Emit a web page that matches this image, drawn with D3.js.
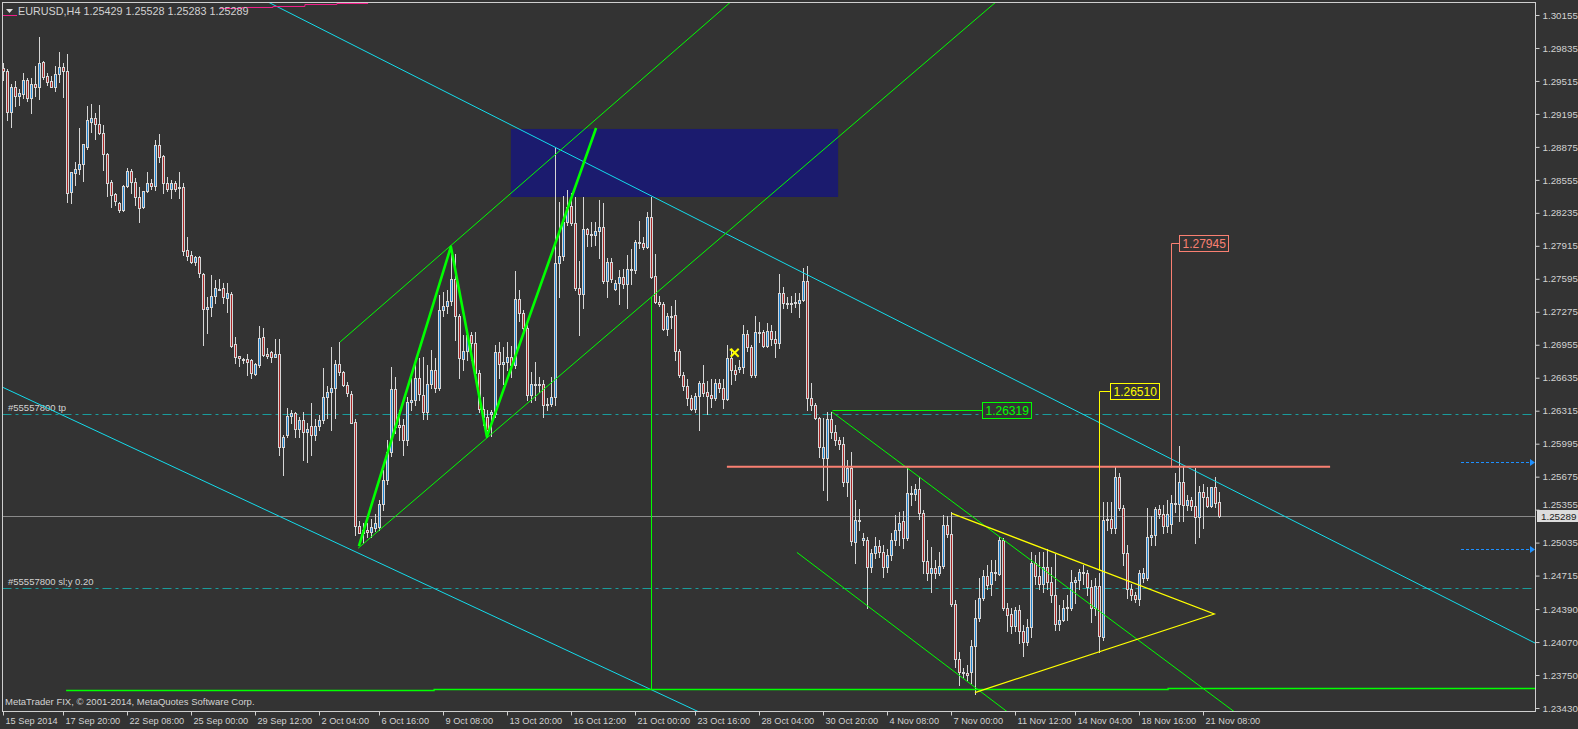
<!DOCTYPE html>
<html>
<head>
<meta charset="utf-8">
<script src="https://cdn.jsdelivr.net/npm/d3@7"></script>
<style>
  html, body { margin: 0; padding: 0; background: #333333; overflow: hidden; }
  svg { display: block; }
  text { font-family: "Liberation Sans", Arial, sans-serif; font-size: 9.5px; fill: #d2d2d2; }
</style>
</head>
<body>
<svg id="chart" width="1578" height="729"></svg>
<script>
// EURUSD H4 candles, prices in 1/10000
const OPEN = [
  12964,12961,12921,12946,12937,12939,12952,12935,12949,12946,
  12970,12956,12951,12946,12958,12965,12961,12844,12862,12866,
  12871,12887,12912,12916,12910,12901,12881,12853,12842,12833,
  12826,12850,12864,12853,12839,12829,12845,12852,12850,12889,
  12879,12852,12847,12852,12848,12849,12787,12783,12776,12781,
  12764,12730,12732,12743,12750,12751,12741,12745,12696,12685,
  12682,12682,12681,12667,12676,12703,12687,12688,12684,12687,
  12596,12608,12626,12629,12614,12622,12611,12617,12608,12617,
  12622,12645,12650,12654,12677,12669,12656,12648,12621,12520,
  12513,12516,12514,12518,12519,12541,12564,12591,12653,12618,
  12618,12603,12640,12642,12663,12647,12630,12657,12671,12654,
  12729,12733,12738,12759,12723,12682,12689,12705,12697,12668,
  12633,12625,12628,12628,12688,12677,12679,12684,12676,12740,
  12726,12712,12647,12657,12656,12657,12637,12638,12645,12775,
  12782,12815,12830,12814,12751,12745,12808,12803,12802,12806,
  12810,12757,12776,12750,12755,12761,12754,12769,12768,12795,
  12794,12790,12819,12762,12737,12735,12711,12723,12724,12689,
  12666,12655,12644,12633,12646,12658,12650,12647,12644,12658,
  12654,12643,12683,12671,12672,12674,12706,12693,12666,12708,
  12708,12694,12709,12701,12697,12746,12736,12735,12736,12736,
  12739,12757,12644,12637,12624,12586,12586,12623,12611,12603,
  12599,12562,12576,12504,12525,12506,12506,12480,12493,12500,
  12494,12480,12491,12506,12516,12524,12508,12552,12551,12556,
  12532,12486,12474,12479,12474,12481,12521,12512,12444,12391,
  12378,12377,12378,12403,12430,12450,12471,12463,12475,12473,
  12506,12440,12434,12423,12438,12418,12407,12422,12484,12471,
  12463,12480,12465,12453,12425,12428,12440,12440,12465,12467,
  12475,12474,12460,12440,12461,12412,12525,12526,12518,12567,
  12537,12493,12458,12453,12449,12469,12469,12509,12511,12536,
  12531,12520,12522,12542,12541,12562,12540,12545,12539,12528,
  12553,12548,12539,12557,12543
];
const HIGH = [
  12969,12963,12949,12951,12944,12959,12954,12954,12966,12994,
  12971,12959,12956,12966,12980,12969,12978,12863,12873,12906,
  12890,12927,12929,12920,12928,12909,12882,12855,12843,12834,
  12851,12867,12866,12857,12849,12845,12863,12856,12894,12900,
  12880,12858,12855,12854,12863,12852,12800,12786,12782,12782,
  12765,12742,12763,12758,12759,12755,12755,12747,12703,12685,
  12683,12687,12682,12678,12714,12712,12692,12689,12701,12701,
  12608,12634,12632,12630,12625,12630,12620,12639,12623,12627,
  12673,12655,12693,12681,12698,12670,12659,12651,12623,12524,
  12523,12523,12526,12531,12545,12574,12603,12674,12664,12632,
  12623,12645,12663,12681,12683,12684,12676,12690,12683,12744,
  12747,12749,12790,12784,12725,12705,12710,12708,12708,12671,
  12645,12632,12632,12695,12698,12693,12698,12694,12767,12749,
  12729,12718,12669,12679,12664,12661,12644,12664,12886,12834,
  12840,12846,12843,12839,12777,12839,12809,12815,12815,12836,
  12833,12780,12780,12758,12768,12769,12783,12788,12797,12816,
  12800,12824,12839,12784,12743,12737,12726,12733,12739,12691,
  12669,12662,12647,12649,12660,12676,12660,12662,12662,12662,
  12662,12695,12691,12676,12681,12715,12710,12695,12723,12718,
  12710,12717,12715,12709,12764,12752,12742,12743,12746,12746,
  12770,12772,12658,12639,12625,12624,12630,12630,12618,12606,
  12606,12584,12591,12545,12536,12513,12509,12497,12509,12506,
  12501,12497,12513,12530,12533,12534,12576,12558,12560,12567,
  12535,12506,12499,12487,12494,12530,12529,12533,12448,12397,
  12382,12385,12409,12448,12469,12477,12482,12487,12487,12509,
  12508,12445,12440,12441,12443,12424,12429,12494,12491,12494,
  12494,12497,12480,12492,12443,12448,12453,12477,12470,12478,
  12482,12477,12467,12469,12474,12543,12543,12543,12577,12571,
  12540,12501,12463,12456,12477,12479,12537,12529,12538,12540,
  12540,12545,12550,12571,12597,12578,12550,12548,12576,12558,
  12560,12557,12557,12567,12553
];
const LOW = [
  12952,12914,12907,12927,12928,12935,12932,12920,12937,12934,
  12953,12948,12946,12942,12950,12936,12834,12833,12851,12861,
  12854,12885,12902,12895,12900,12865,12840,12829,12831,12824,
  12825,12849,12843,12831,12815,12828,12844,12847,12846,12873,
  12843,12845,12838,12845,12838,12783,12778,12775,12773,12761,
  12695,12707,12723,12736,12749,12736,12727,12693,12678,12675,
  12678,12666,12663,12666,12674,12685,12683,12679,12684,12589,
  12569,12606,12620,12606,12606,12584,12582,12589,12603,12613,
  12620,12624,12613,12624,12666,12655,12646,12620,12511,12513,
  12503,12509,12509,12515,12516,12535,12560,12588,12610,12603,
  12589,12598,12632,12637,12642,12623,12623,12654,12650,12652,
  12723,12726,12734,12700,12663,12671,12681,12681,12663,12630,
  12618,12606,12607,12625,12663,12657,12671,12664,12673,12719,
  12710,12642,12640,12642,12650,12625,12632,12636,12637,12742,
  12778,12812,12812,12749,12705,12731,12791,12791,12792,12780,
  12755,12742,12756,12749,12735,12751,12731,12754,12765,12789,
  12788,12789,12760,12736,12733,12710,12705,12712,12681,12664,
  12652,12637,12632,12630,12613,12646,12628,12635,12642,12650,
  12634,12642,12657,12661,12669,12668,12689,12664,12664,12698,
  12693,12693,12695,12684,12692,12731,12731,12727,12732,12722,
  12738,12632,12632,12623,12587,12555,12545,12605,12598,12594,
  12558,12549,12501,12484,12516,12501,12440,12475,12489,12490,
  12470,12475,12487,12501,12501,12498,12506,12540,12545,12526,
  12474,12467,12456,12469,12472,12479,12509,12442,12383,12365,
  12373,12370,12367,12357,12427,12448,12458,12453,12467,12472,
  12438,12418,12416,12418,12406,12393,12404,12412,12463,12458,
  12456,12458,12446,12419,12419,12427,12428,12438,12445,12458,
  12463,12453,12426,12433,12397,12409,12516,12513,12513,12535,
  12482,12450,12448,12446,12443,12465,12467,12501,12501,12527,
  12513,12514,12513,12533,12524,12524,12535,12535,12503,12509,
  12518,12538,12538,12538,12528
];
const CLOSE = [
  12961,12921,12946,12937,12940,12952,12935,12949,12946,12969,
  12955,12950,12946,12958,12965,12961,12843,12863,12866,12871,
  12890,12914,12916,12910,12901,12881,12852,12841,12835,12826,
  12850,12864,12853,12839,12828,12845,12852,12850,12889,12878,
  12852,12847,12852,12847,12849,12786,12782,12776,12781,12765,
  12730,12732,12743,12751,12749,12742,12746,12694,12684,12683,
  12681,12679,12668,12677,12702,12686,12685,12684,12687,12596,
  12606,12626,12629,12614,12622,12611,12614,12608,12617,12622,
  12645,12650,12654,12677,12669,12656,12649,12620,12520,12513,
  12516,12514,12519,12523,12541,12564,12591,12653,12616,12616,
  12603,12640,12642,12663,12648,12630,12657,12671,12654,12729,
  12733,12738,12759,12723,12683,12689,12705,12697,12668,12633,
  12625,12613,12630,12688,12677,12679,12684,12676,12740,12726,
  12712,12647,12657,12656,12657,12637,12638,12645,12775,12782,
  12815,12829,12814,12751,12745,12808,12803,12802,12806,12810,
  12757,12776,12759,12755,12761,12754,12769,12768,12795,12794,
  12790,12819,12761,12737,12735,12711,12723,12722,12689,12666,
  12655,12644,12633,12646,12658,12649,12646,12644,12658,12654,
  12643,12683,12671,12667,12674,12706,12693,12666,12708,12707,
  12694,12709,12701,12697,12746,12736,12735,12736,12737,12739,
  12757,12644,12637,12624,12596,12596,12623,12611,12603,12599,
  12562,12576,12505,12525,12524,12508,12480,12493,12500,12494,
  12480,12491,12506,12516,12523,12508,12552,12551,12556,12532,
  12486,12474,12479,12474,12481,12521,12512,12444,12391,12378,
  12377,12375,12403,12430,12450,12471,12462,12475,12474,12506,
  12440,12433,12423,12438,12418,12407,12422,12484,12471,12463,
  12480,12465,12453,12425,12428,12440,12441,12465,12467,12475,
  12474,12460,12440,12461,12413,12525,12526,12518,12567,12537,
  12493,12458,12453,12449,12474,12474,12509,12511,12536,12531,
  12520,12531,12542,12541,12562,12540,12545,12539,12528,12553,
  12548,12539,12557,12542,12529
];

const TIME_LABELS = ['15 Sep 2014', '17 Sep 20:00', '22 Sep 08:00', '25 Sep 00:00', '29 Sep 12:00',
  '2 Oct 04:00', '6 Oct 16:00', '9 Oct 08:00', '13 Oct 20:00', '16 Oct 12:00', '21 Oct 00:00',
  '23 Oct 16:00', '28 Oct 04:00', '30 Oct 20:00', '4 Nov 08:00', '7 Nov 00:00', '11 Nov 12:00',
  '14 Nov 04:00', '18 Nov 16:00', '21 Nov 08:00'];
const TIME_BARS = [0, 15, 31, 47, 63, 79, 94, 110, 126, 142, 158, 173, 189, 205, 221, 237, 253, 268, 284, 300];
const PRICE_TICKS = ['1.30155', '1.29835', '1.29515', '1.29195', '1.28875', '1.28555', '1.28235',
  '1.27915', '1.27595', '1.27275', '1.26955', '1.26635', '1.26315', '1.25995', '1.25675', '1.25355',
  '1.25035', '1.24715', '1.24390', '1.24070', '1.23750', '1.23430'];

const HEADER = ['EURUSD,H4', 1.25429, 1.25528, 1.25283, 1.25289];
const LAST_PRICE = 1.25289;

// drawn objects: [bar, price] anchors
const CYAN_UPPER = [[66.7, 1.30271], [382.9, 1.24061]];
const CYAN_LOWER = [[-0.3, 1.26545], [83.35, 1.25031]];
const CHANNEL_UPPER = [[84.2, 1.26982], [141.7, 1.28925]];
const CHANNEL_LOWER = [[88.7, 1.24980], [141.7, 1.26742]];
const ZIGZAG = [[88.9, 1.25002], [111.9, 1.27907], [120.9, 1.26063], [148.2, 1.29058]];
const ZONE_BARS = [126.9, 208.7];
const ZONE_PRICES = [1.29049, 1.28389];
const WEDGE_UPPER = [[207.1, 1.26305], [297.1, 1.23702]];
const WEDGE_LOWER = [[198.4, 1.24940], [247.1, 1.23508]];
const TRIANGLE = [[237.1, 1.25319], [302.75, 1.24342], [242.9, 1.23579]];
const RESIST = { price: 1.25772, bars: [180.9, 331.7] };
const MARKS = [
  { text: '1.27945', price: 1.27945, bar: 292.0, from: 1.25772, box: 294.0 },
  { text: '1.26510', price: 1.26510, bar: 274.0, from: 1.24769, box: 276.7 },
  { text: '1.26319', price: 1.26319, bar: 207.1, from: 1.26319, box: 244.7 }
];
const ORDER_LEVELS = [{ name: '#55557800 tp', price: 1.26280 }, { name: '#55557800 sl;y 0.20', price: 1.24592 }];
const PENDING_LEVELS = [1.25814, 1.24970];
const BOTTOM_STEPS = [[15.7, 107.7, 1.23600], [107.7, 291.2, 1.23610], [291.2, 384, 1.23622]];
const TOP_STEPS = [[54.2, 59.7, 1.30223], [59.7, 67.4, 1.30236], [67.4, 75.4, 1.30245], [75.4, 83.4, 1.30259], [83.4, 91.2, 1.30269]];
const VLINE_BAR = 162.0;
const CLOSE_MARK = [182.85, 1.26878];

const svg = d3.select('#chart');
const PL = 2.5, PT = 2.5, PR = 1535.5, PB = 711.5;

const x = d3.scaleLinear().domain([0, 304]).range([3.3, 1219.3]);
const y = d3.scaleLinear().domain([1.23430, 1.30155]).range([708, 15]);
const col = i => Math.round(x(i));
const py = p => Math.round(y(p)) + 0.5;

const C = {
  frame: '#cfcfcf', text: '#d2d2d2', candle: '#d6d6d6', bull: '#1f84d2', bear: '#ad2727',
  cyan: '#14dcec', lime: '#00ff00', yellow: '#ffff00', salmon: '#fa8072', teal: '#1a9c9c',
  zone: '#1b1b6e', grey: '#8a8a8a', blue: '#1e90ff', pink: '#f0208a'
};

svg.append('rect').attr('width', 1578).attr('height', 729).attr('fill', '#333333');
svg.append('clipPath').attr('id', 'plot').append('rect')
  .attr('x', PL).attr('y', PT).attr('width', PR - PL).attr('height', PB - PT);

const back = svg.append('g').attr('clip-path', 'url(#plot)');
const mid = svg.append('g').attr('clip-path', 'url(#plot)');
const front = svg.append('g').attr('clip-path', 'url(#plot)');

// background zone
back.append('rect')
  .attr('x', x(ZONE_BARS[0])).attr('y', y(ZONE_PRICES[0]))
  .attr('width', x(ZONE_BARS[1]) - x(ZONE_BARS[0]))
  .attr('height', y(ZONE_PRICES[1]) - y(ZONE_PRICES[0]))
  .attr('fill', C.zone);

// order levels (dash-dot)
ORDER_LEVELS.forEach(o => {
  back.append('line').attr('x1', PL).attr('x2', PR).attr('y1', py(o.price)).attr('y2', py(o.price))
    .attr('stroke', C.teal).attr('stroke-dasharray', '9,4,3,4');
  back.append('text').attr('x', 8).attr('y', py(o.price) - 4).text(o.name);
});

// bid line
back.append('line').attr('x1', PL).attr('x2', PR).attr('y1', py(LAST_PRICE)).attr('y2', py(LAST_PRICE))
  .attr('stroke', C.grey);

// pending order arrows
PENDING_LEVELS.forEach(p => {
  back.append('line').attr('x1', 1461).attr('x2', 1530).attr('y1', py(p)).attr('y2', py(p))
    .attr('stroke', C.blue).attr('stroke-dasharray', '3,2');
  back.append('path').attr('d', `M1530,${py(p) - 3.5}L1535,${py(p)}L1530,${py(p) + 3.5}Z`).attr('fill', C.blue);
});

// candles
const candles = OPEN.map((o, i) => ({ i, o: o / 1e4, h: HIGH[i] / 1e4, l: LOW[i] / 1e4, c: CLOSE[i] / 1e4 }));
mid.selectAll('line.wick').data(candles).join('line')
  .attr('class', 'wick')
  .attr('x1', d => col(d.i) + 0.5).attr('x2', d => col(d.i) + 0.5)
  .attr('y1', d => Math.round(y(d.h))).attr('y2', d => Math.round(y(d.l)) + 1)
  .attr('stroke', C.candle);
mid.selectAll('rect.body').data(candles).join('rect')
  .attr('class', 'body')
  .attr('x', d => col(d.i) - 0.5).attr('width', 2)
  .attr('y', d => py(Math.max(d.o, d.c)))
  .attr('height', d => Math.max(1, py(Math.min(d.o, d.c)) - py(Math.max(d.o, d.c))))
  .attr('fill', d => d.c >= d.o ? C.bull : C.bear)
  .attr('stroke', C.candle);

// helpers for drawn lines
function at(line, bar) {
  const [[b0, p0], [b1, p1]] = line;
  return p0 + (p1 - p0) * (bar - b0) / (b1 - b0);
}
function seg(g, line, b0, b1, color, w) {
  g.append('line')
    .attr('x1', x(b0)).attr('y1', y(at(line, b0)))
    .attr('x2', x(b1)).attr('y2', y(at(line, b1)))
    .attr('stroke', color).attr('stroke-width', w || 1);
}

seg(front, CYAN_UPPER, 60, 400, C.cyan);
seg(front, CYAN_LOWER, -5, 200, C.cyan);
seg(front, CHANNEL_UPPER, CHANNEL_UPPER[0][0], 260, C.lime);
seg(front, CHANNEL_LOWER, CHANNEL_LOWER[0][0], 260, C.lime);
seg(front, WEDGE_UPPER, WEDGE_UPPER[0][0], 330, C.lime);
seg(front, WEDGE_LOWER, WEDGE_LOWER[0][0], 270, C.lime);

front.append('path')
  .attr('d', d3.line().x(d => x(d[0])).y(d => y(d[1]))(ZIGZAG))
  .attr('fill', 'none').attr('stroke', C.lime).attr('stroke-width', 2.6).attr('stroke-linejoin', 'round');

// vertical from channel to bottom level
front.append('line')
  .attr('x1', col(VLINE_BAR) + 0.5).attr('x2', col(VLINE_BAR) + 0.5)
  .attr('y1', y(at(CHANNEL_LOWER, VLINE_BAR))).attr('y2', y(BOTTOM_STEPS[1][2]))
  .attr('stroke', C.lime);

// bottom and top step lines
const stepPath = steps => steps.map((s, k) =>
  (k ? 'L' : 'M') + x(s[0]) + ',' + py(s[2]) + 'L' + x(s[1]) + ',' + py(s[2])).join('');
front.append('path').attr('d', stepPath(BOTTOM_STEPS)).attr('fill', 'none').attr('stroke', C.lime).attr('stroke-width', 1.3);
front.append('path').attr('d', stepPath(TOP_STEPS)).attr('fill', 'none').attr('stroke', C.pink);

// yellow triangle (two sides)
front.append('path')
  .attr('d', d3.line().x(d => x(d[0])).y(d => y(d[1]))(TRIANGLE))
  .attr('fill', 'none').attr('stroke', C.yellow).attr('stroke-width', 1.2);

// resistance
front.append('line')
  .attr('x1', x(RESIST.bars[0])).attr('x2', x(RESIST.bars[1]))
  .attr('y1', y(RESIST.price)).attr('y2', y(RESIST.price))
  .attr('stroke', C.salmon).attr('stroke-width', 2);

// price marks with callout boxes
const markColor = [C.salmon, C.yellow, C.lime];
MARKS.forEach((m, k) => {
  const c = markColor[k];
  const xb = col(m.bar) + 0.5, yb = py(m.price);
  if (m.from !== m.price) {
    front.append('line').attr('x1', xb).attr('x2', xb).attr('y1', py(m.from)).attr('y2', yb).attr('stroke', c);
  }
  front.append('line').attr('x1', xb).attr('x2', Math.round(x(m.box))).attr('y1', yb).attr('y2', yb).attr('stroke', c);
  const bx = Math.round(x(m.box)) + 0.5;
  front.append('rect').attr('x', bx).attr('y', yb - 8).attr('width', 49).attr('height', 16)
    .attr('fill', '#333333').attr('stroke', c);
  front.append('text').attr('x', bx + 3).attr('y', yb + 4.5)
    .style('font-size', '12px').style('fill', c).text(m.text);
});

// close marker
{
  const cx = x(CLOSE_MARK[0]), cy = y(CLOSE_MARK[1]);
  front.append('path')
    .attr('d', `M${cx - 4},${cy - 4}L${cx + 4},${cy + 4}M${cx + 4},${cy - 4}L${cx - 4},${cy + 4}M${cx - 5},${cy - 3}L${cx - 2},${cy - 3}`)
    .attr('stroke', C.yellow).attr('stroke-width', 2);
}

// frame
svg.append('rect').attr('x', PL).attr('y', PT).attr('width', PR - PL).attr('height', PB - PT)
  .attr('fill', 'none').attr('stroke', C.frame);

// price axis
const yAxis = d3.axisRight(y).tickValues(PRICE_TICKS.map(Number))
  .tickFormat((d, i) => PRICE_TICKS[i]).tickSize(4).tickPadding(3);
const gy = svg.append('g').attr('transform', `translate(${PR},0)`).call(yAxis);
gy.select('.domain').remove();
gy.selectAll('line').attr('stroke', C.frame);
gy.selectAll('text').attr('fill', C.text).attr('font-family', null).attr('font-size', null)
  .style('font-size', '9.8px');
// the label hidden by the bid box sits just above it
gy.selectAll('.tick').filter(d => Math.abs(d - LAST_PRICE) < 0.0008)
  .select('text').attr('dy', '-0.25em');

// time axis
const xAxis = d3.axisBottom(x).tickValues(TIME_BARS).tickFormat((d, i) => TIME_LABELS[i])
  .tickSize(4).tickPadding(2);
const gx = svg.append('g').attr('transform', `translate(0,${PB})`).call(xAxis);
gx.select('.domain').remove();
gx.selectAll('.tick').attr('transform', d => `translate(${col(d) + 0.5},0)`);
gx.selectAll('line').attr('stroke', C.frame);
gx.selectAll('text').attr('fill', C.text).attr('text-anchor', 'start').attr('x', 2)
  .attr('font-family', null).attr('font-size', null).style('font-size', '9.2px');

// bid box
svg.append('rect').attr('x', 1537).attr('y', py(LAST_PRICE) - 6.5).attr('width', 41).attr('height', 12)
  .attr('fill', '#dcdcdc');
svg.append('text').attr('x', 1541).attr('y', py(LAST_PRICE) + 3.5).style('fill', '#1a1a1a')
  .style('font-size', '9.8px').text(LAST_PRICE.toFixed(5));

// header
svg.append('path').attr('d', 'M6,9L13,9L9.5,13Z').attr('fill', '#e0e0e0');
svg.append('line').attr('x1', 3).attr('x2', 17).attr('y1', 15.5).attr('y2', 15.5).attr('stroke', C.pink);
svg.append('text').attr('x', 18).attr('y', 14.5).style('font-size', '10.8px')
  .text(HEADER[0] + '  ' + HEADER.slice(1).map(v => v.toFixed(5)).join(' '));

// footer
svg.append('text').attr('x', 5).attr('y', 705)
  .text('MetaTrader FIX, \u00a9 2001-2014, MetaQuotes Software Corp.');
</script>
</body>
</html>
